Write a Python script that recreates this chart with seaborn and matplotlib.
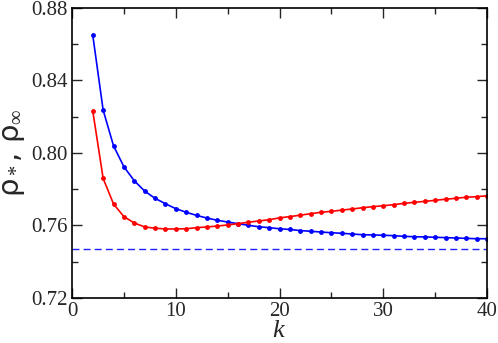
import numpy as np
import pandas as pd
import matplotlib
matplotlib.use("Agg")
import matplotlib.pyplot as plt
import seaborn as sns

k = list(range(2, 41))
rho_inf = [0.865, 0.8237, 0.804, 0.7924, 0.7847, 0.779, 0.775, 0.772, 0.7693,
           0.7673, 0.7656, 0.7641, 0.7629, 0.7619, 0.761, 0.7601, 0.7593, 0.7588,
           0.7582, 0.7578, 0.7572, 0.7568, 0.7564, 0.7560, 0.7557, 0.7553, 0.7549,
           0.7548, 0.7546, 0.7544, 0.7540, 0.7538, 0.7537, 0.7535, 0.7533, 0.7531,
           0.7529, 0.7527, 0.7527]
rho_star = [0.8232, 0.786, 0.7719, 0.7649, 0.7614, 0.7592, 0.7585, 0.7581, 0.7581,
            0.7582, 0.7588, 0.7592, 0.7597, 0.7603, 0.761, 0.7618, 0.7625, 0.7632,
            0.7642, 0.7649, 0.7657, 0.7665, 0.7673, 0.7678, 0.7685, 0.7691, 0.7698,
            0.7704, 0.7709, 0.7715, 0.7722, 0.7728, 0.7733, 0.7739, 0.7745, 0.7750,
            0.7756, 0.7759, 0.7764]
rho_limit = 0.7472

df = pd.DataFrame({"k": k, "rho_inf": rho_inf, "rho_star": rho_star})

sns.set_style("ticks")
plt.rcParams["font.family"] = ["Liberation Serif", "DejaVu Serif"]
plt.rcParams["mathtext.fontset"] = "custom"
plt.rcParams["mathtext.rm"] = "Liberation Serif"
plt.rcParams["mathtext.it"] = "Liberation Serif:italic"
plt.rcParams["mathtext.fallback"] = "stix"

fig = plt.figure(figsize=(4.98, 3.43), dpi=100)
ax = fig.add_axes([0.1446, 0.1312, 0.8334, 0.8455])

sns.lineplot(data=df, x="k", y="rho_inf", color="#0000ff", marker="o",
             markersize=3.5, markeredgewidth=0, linewidth=1.2, ax=ax)
sns.lineplot(data=df, x="k", y="rho_star", color="#ff0000", marker="o",
             markersize=3.5, markeredgewidth=0, linewidth=1.2, ax=ax)
ax.axhline(rho_limit, color="#2020ff", linestyle=(0, (5, 3)), linewidth=1.0)

ax.set_xlim(0, 40)
ax.set_ylim(0.72, 0.88)
ax.set_xticks([0, 10, 20, 30, 40])
ax.set_xticks([5, 15, 25, 35], minor=True)
ax.set_yticks([0.72, 0.76, 0.80, 0.84, 0.88])
ax.set_yticks([0.74, 0.78, 0.82, 0.86], minor=True)
ax.set_yticklabels(["0.72", "0.76", "0.80", "0.84", "0.88"])
ax.tick_params(which="both", direction="in", top=True, right=True, labelsize=15,
               width=1)
ax.tick_params(which="major", length=7, pad=3)
ax.tick_params(which="minor", length=4)
for s in ax.spines.values():
    s.set_linewidth(1.2)
    s.set_color("black")

ax.set_xlabel("$k$", fontsize=19, labelpad=-1)
ax.set_ylabel(r"ρ$_*$, ρ$_\infty$", fontsize=21, family=["DejaVu Sans"], labelpad=3)

fig.savefig("out.png", dpi=100)
